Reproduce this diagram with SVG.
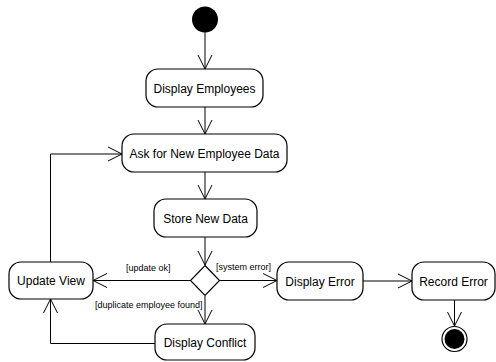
<svg xmlns="http://www.w3.org/2000/svg" width="496" height="362" viewBox="0 0 496 362">
<style>
.node rect{fill:#fff;stroke:#000;stroke-width:1.2}
.node text{font-family:"Liberation Sans",Arial,sans-serif;font-size:12px;fill:#000;text-anchor:middle}
.edge{fill:none;stroke:#000;stroke-width:1}
.guard{font-family:"Liberation Sans",Arial,sans-serif;font-size:9px;fill:#000}
</style>
<defs>
<marker id="arr" markerUnits="userSpaceOnUse" markerWidth="16" markerHeight="16" viewBox="-15 -8 16 16" refX="0" refY="0" orient="auto">
<path d="M-14,-7 L0,0 L-14,7" fill="none" stroke="#000" stroke-width="1"/>
</marker>
</defs>
<rect width="496" height="362" fill="#fff"/>
<g id="connectors">
<path class="edge" d="M205,32 L205,69" marker-end="url(#arr)"/>
<path class="edge" d="M205,107 L205,134" marker-end="url(#arr)"/>
<path class="edge" d="M205,172 L205,199" marker-end="url(#arr)"/>
<path class="edge" d="M205,237 L205,265" marker-end="url(#arr)"/>
<path class="edge" d="M190,280.5 L93,280.5" marker-end="url(#arr)"/>
<path class="edge" d="M219.5,280.5 L277,280.5" marker-end="url(#arr)"/>
<path class="edge" d="M205,296 L205,324" marker-end="url(#arr)"/>
<path class="edge" d="M363,281 L412,281" marker-end="url(#arr)"/>
<path class="edge" d="M454.5,300 L454.5,326" marker-end="url(#arr)"/>
<path class="edge" d="M50.5,262 L50.5,154 L122,154" marker-end="url(#arr)"/>
<path class="edge" d="M155,343.5 L50.5,343.5 L50.5,299" marker-end="url(#arr)"/>
<text class="guard" x="126" y="271">[update ok]</text>
<text class="guard" x="216" y="270">[system error]</text>
<text class="guard" x="95" y="308">[duplicate employee found]</text>
</g>
<g id="start"><circle cx="205" cy="19.5" r="13" fill="#000"/></g>
<g id="display-employees" class="node"><rect x="146" y="69" width="117" height="38" rx="12"/><text x="204.5" y="92.5">Display Employees</text></g>
<g id="ask-data" class="node"><rect x="122" y="134" width="165" height="38" rx="12"/><text x="204.5" y="157.5">Ask for New Employee Data</text></g>
<g id="store-data" class="node"><rect x="154" y="199" width="103" height="38" rx="12"/><text x="205.5" y="222.5">Store New Data</text></g>
<g id="decision"><path d="M205,265.5 L219.5,280.5 L205,295.5 L190.5,280.5 Z" fill="#fff" stroke="#000" stroke-width="1.2"/></g>
<g id="update-view" class="node"><rect x="9" y="262" width="84" height="37" rx="12"/><text x="51" y="285">Update View</text></g>
<g id="display-error" class="node"><rect x="277" y="262" width="86" height="38" rx="12"/><text x="320" y="285.5">Display Error</text></g>
<g id="record-error" class="node"><rect x="412" y="262" width="83" height="38" rx="12"/><text x="453.5" y="285.5">Record Error</text></g>
<g id="display-conflict" class="node"><rect x="155" y="324" width="100" height="36" rx="12"/><text x="205" y="346.5">Display Conflict</text></g>
<g id="end"><circle cx="454.5" cy="339" r="12.5" fill="#fff" stroke="#000" stroke-width="1.2"/><circle cx="454.5" cy="339" r="10" fill="#000"/></g>
</svg>
